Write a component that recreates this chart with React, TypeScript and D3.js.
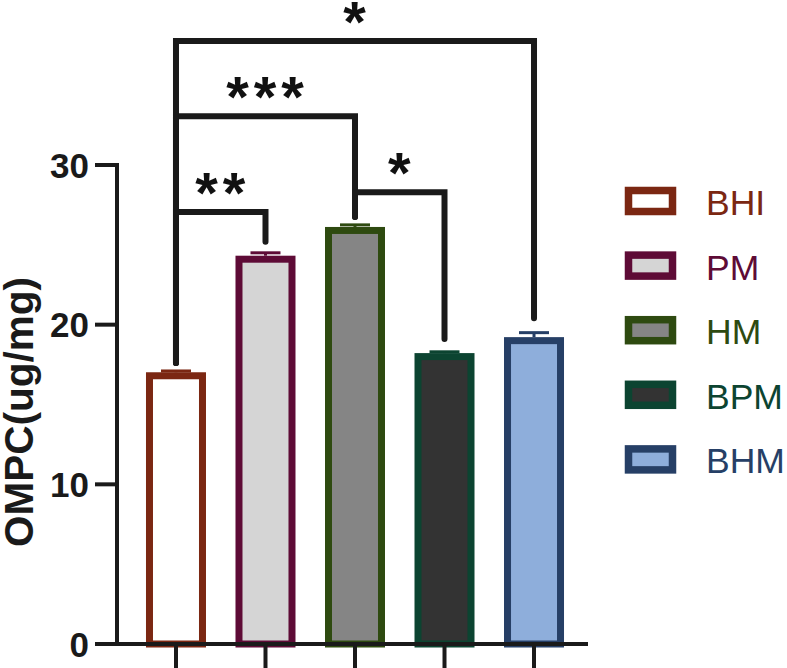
import React from "react";
import * as d3 from "d3";

const categories = ["BHI", "PM", "HM", "BPM", "BHM"];
const means = [16.8, 24.1, 25.9, 18.0, 19.0];
const errors = [0.3, 0.4, 0.35, 0.3, 0.5];
const strokeColors = ["#7B2712", "#5E0B36", "#2E4A10", "#0C4431", "#263F66"];
const fillColors = ["#FFFFFF", "#D5D5D5", "#858585", "#333333", "#8EAEDB"];
const yTicks = [0, 10, 20, 30];
const yLabel = "OMPC(ug/mg)";

const bracketFrom = [0, 0, 2, 0];
const bracketTo = [1, 2, 3, 4];
const bracketLevel = [27.05, 33.06, 28.3, 37.76];
const bracketEndFrom = [17.6, 17.6, 26.74, 17.6];
const bracketEndTo = [25.2, 26.74, 19.1, 20.4];
const bracketLabels = ["**", "***", "*", "*"];

const W = 787;
const H = 668;
const FONT = "'Liberation Sans', Arial, Helvetica, sans-serif";

export default function App() {
  const y = d3.scaleLinear().domain([0, 30]).range([644, 165]);
  const x = d3.scalePoint<string>().domain(categories).range([117, 593]).padding(0.659);
  const barW = 53;
  const axisX = 117;
  const xEnd = 588;

  const bracketPath = (i: number) => {
    const xa = x(categories[bracketFrom[i]])!;
    const xb = x(categories[bracketTo[i]])!;
    const p = d3.path();
    p.moveTo(xa, y(bracketEndFrom[i]));
    p.lineTo(xa, y(bracketLevel[i]));
    p.lineTo(xb, y(bracketLevel[i]));
    p.lineTo(xb, y(bracketEndTo[i]));
    return p.toString();
  };

  return (
    <svg
      width={W}
      height={H}
      style={{ position: "absolute", left: 0, top: 0, background: "#fff" }}
      fontFamily={FONT}
    >
      {/* bars */}
      {categories.map((c, i) => {
        const cx = x(c)!;
        const top = y(means[i]);
        return (
          <g key={c}>
            <rect
              x={cx - barW / 2}
              y={top}
              width={barW}
              height={y(0) - top}
              fill={fillColors[i]}
              stroke={strokeColors[i]}
              strokeWidth={7}
            />
            <line
              x1={cx}
              x2={cx}
              y1={top - 3.5}
              y2={y(means[i] + errors[i])}
              stroke={strokeColors[i]}
              strokeWidth={3}
            />
            <line
              x1={cx - 15}
              x2={cx + 15}
              y1={y(means[i] + errors[i])}
              y2={y(means[i] + errors[i])}
              stroke={strokeColors[i]}
              strokeWidth={3}
            />
          </g>
        );
      })}

      {/* axes */}
      <line x1={axisX} x2={axisX} y1={y(30) - 2} y2={y(0)} stroke="#1a1a1a" strokeWidth={4} />
      <line x1={axisX - 2} x2={xEnd} y1={y(0)} y2={y(0)} stroke="#1a1a1a" strokeWidth={4} />
      {yTicks.map((t) => (
        <g key={t}>
          <line x1={axisX - 22} x2={axisX} y1={y(t)} y2={y(t)} stroke="#1a1a1a" strokeWidth={4} />
          <text
            x={89}
            y={y(t) + 12.5}
            textAnchor="end"
            fontSize={35}
            fontWeight="bold"
            fill="#1a1a1a"
          >
            {t}
          </text>
        </g>
      ))}
      {categories.map((c) => (
        <line key={c} x1={x(c)!} x2={x(c)!} y1={y(0)} y2={y(0) + 24} stroke="#1a1a1a" strokeWidth={4} />
      ))}
      <text
        transform={`translate(33, ${412}) rotate(-90)`}
        textAnchor="middle"
        fontSize={40.5}
        fontWeight="bold"
        fill="#1a1a1a"
      >
        {yLabel}
      </text>

      {/* significance brackets */}
      {bracketLabels.map((lab, i) => {
        const xa = x(categories[bracketFrom[i]])!;
        const xb = x(categories[bracketTo[i]])!;
        return (
          <g key={i}>
            <path
              d={bracketPath(i)}
              fill="none"
              stroke="#1a1a1a"
              strokeWidth={6}
              strokeLinecap="round"
              strokeLinejoin="miter"
            />
            <text
              x={(xa + xb) / 2 + 2}
              y={y(bracketLevel[i]) + 1}
              textAnchor="middle"
              fontSize={58}
              fontWeight="bold"
              letterSpacing={5}
              fill="#111"
            >
              {lab}
            </text>
          </g>
        );
      })}

      {/* legend */}
      {categories.map((c, i) => {
        const cy = 201 + i * 64.6;
        return (
          <g key={c}>
            <rect
              x={628.5}
              y={cy - 10.5}
              width={44}
              height={21}
              fill={fillColors[i]}
              stroke={strokeColors[i]}
              strokeWidth={7.5}
            />
            <text x={706} y={cy + 14} fontSize={35.5} fill={strokeColors[i]}>
              {c}
            </text>
          </g>
        );
      })}
    </svg>
  );
}
